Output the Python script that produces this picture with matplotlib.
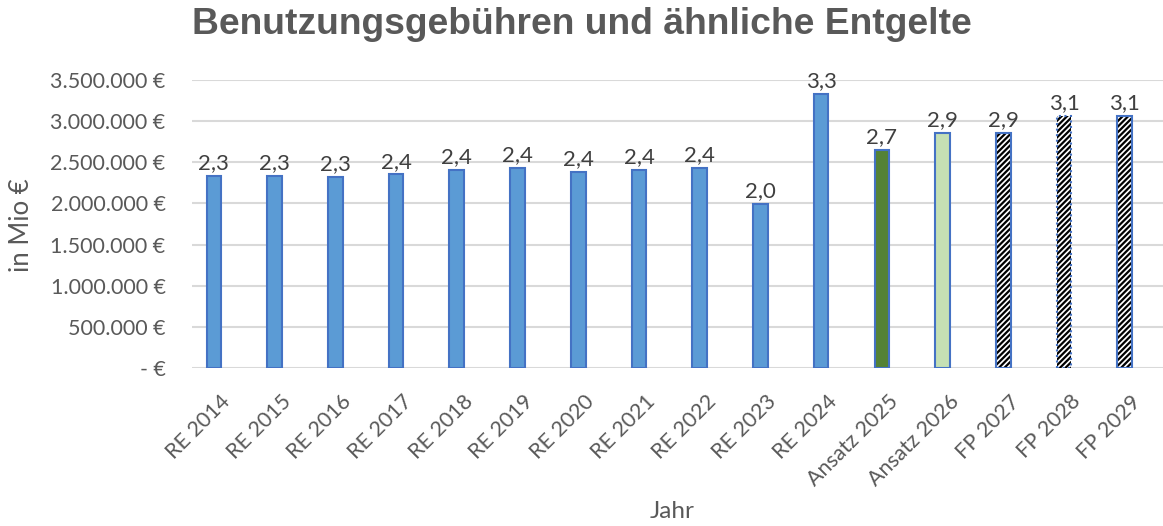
#!/usr/bin/env python3
"""Benutzungsgebühren und ähnliche Entgelte - Balkendiagramm."""

import matplotlib
matplotlib.use("Agg")
import matplotlib.pyplot as plt
import matplotlib.transforms as mtransforms
from matplotlib.ticker import FuncFormatter, MultipleLocator

CATEGORIES = [
    "RE 2014", "RE 2015", "RE 2016", "RE 2017", "RE 2018", "RE 2019",
    "RE 2020", "RE 2021", "RE 2022", "RE 2023", "RE 2024",
    "Ansatz 2025", "Ansatz 2026", "FP 2027", "FP 2028", "FP 2029",
]
VALUES = [
    2332000, 2335000, 2318000, 2352000, 2405000, 2428000,
    2380000, 2410000, 2430000, 1990000, 3329000,
    2651000, 2857000, 2857000, 3063000, 3067000,
]
KINDS = ["re"] * 11 + ["ansatz25", "ansatz26"] + ["fp"] * 3

TITLE = "Benutzungsgebühren und ähnliche Entgelte"
Y_LABEL = "in Mio €"
X_LABEL = "Jahr"

TEXT_COLOR = "#595959"
LABEL_COLOR = "#404040"
GRID_COLOR = "#D9D9D9"
EDGE_BLUE = "#4472C4"
FILLS = {"re": "#5B9BD5", "ansatz25": "#548235", "ansatz26": "#C5E0B4", "fp": "white"}

BAR_WIDTH = 0.24
FONT = ["Lato", "DejaVu Sans"]

plt.rcParams["font.family"] = FONT
plt.rcParams["hatch.linewidth"] = 1.6


def euro(value, _pos):
    if value == 0:
        return "- €"
    return f"{int(value):,} €".replace(",", ".")


fig = plt.figure(figsize=(11.63, 5.26), dpi=100)
ax = fig.add_axes([192 / 1163, 1 - 368 / 526, (1163 - 192) / 1163, 288 / 526])

xs = list(range(len(CATEGORIES)))
for x, value, kind in zip(xs, VALUES, KINDS):
    if kind == "fp":
        ax.bar(x, value, width=BAR_WIDTH, color="white", edgecolor="black",
               hatch="//////", linewidth=0, zorder=3)
        ax.bar(x, value, width=BAR_WIDTH, fill=False, edgecolor=EDGE_BLUE,
               linewidth=1.5, linestyle=":" if x == 14 else "-", zorder=4)
    else:
        ax.bar(x, value, width=BAR_WIDTH, color=FILLS[kind], edgecolor=EDGE_BLUE,
               linewidth=1.5, zorder=3)
    ax.annotate(f"{value / 1e6:.1f}".replace(".", ","), (x, value),
                xytext=(0, 2), textcoords="offset points", ha="center", va="bottom",
                fontsize=16, color=LABEL_COLOR)

ax.set_xlim(-0.36, 15.63)
ax.set_ylim(0, 3500000)
ax.yaxis.set_major_locator(MultipleLocator(500000))
ax.yaxis.set_major_formatter(FuncFormatter(euro))
ax.grid(axis="y", color=GRID_COLOR, linewidth=1.5, zorder=0)
ax.set_axisbelow(True)
for spine in ax.spines.values():
    spine.set_visible(False)

ax.set_xticks(xs)
ax.set_xticklabels(CATEGORIES, rotation=45, ha="right", rotation_mode="anchor",
                   fontsize=15.5, color=TEXT_COLOR)
ax.tick_params(axis="both", length=0, colors=TEXT_COLOR, labelsize=15.5)
ax.tick_params(axis="y", pad=19)
ax.tick_params(axis="x", pad=14)
shift = mtransforms.ScaledTranslation(6 / 100, -4 / 100, fig.dpi_scale_trans)
for label in ax.get_xticklabels():
    label.set_transform(label.get_transform() + shift)

fig.text(0.5, 1 - 25 / 526, TITLE, ha="center", va="center", fontsize=26.8,
         fontweight="bold", color=TEXT_COLOR, family=["Liberation Sans", "DejaVu Sans"])
fig.text(22 / 1163, 1 - 225 / 526, Y_LABEL, rotation=90, ha="center", va="center",
         fontsize=18.5, color=TEXT_COLOR)
fig.text(672 / 1163, 1 - 512 / 526, X_LABEL, ha="center", va="center",
         fontsize=17.5, color=TEXT_COLOR)

fig.savefig("out.png", dpi=100)
plt.close(fig)
